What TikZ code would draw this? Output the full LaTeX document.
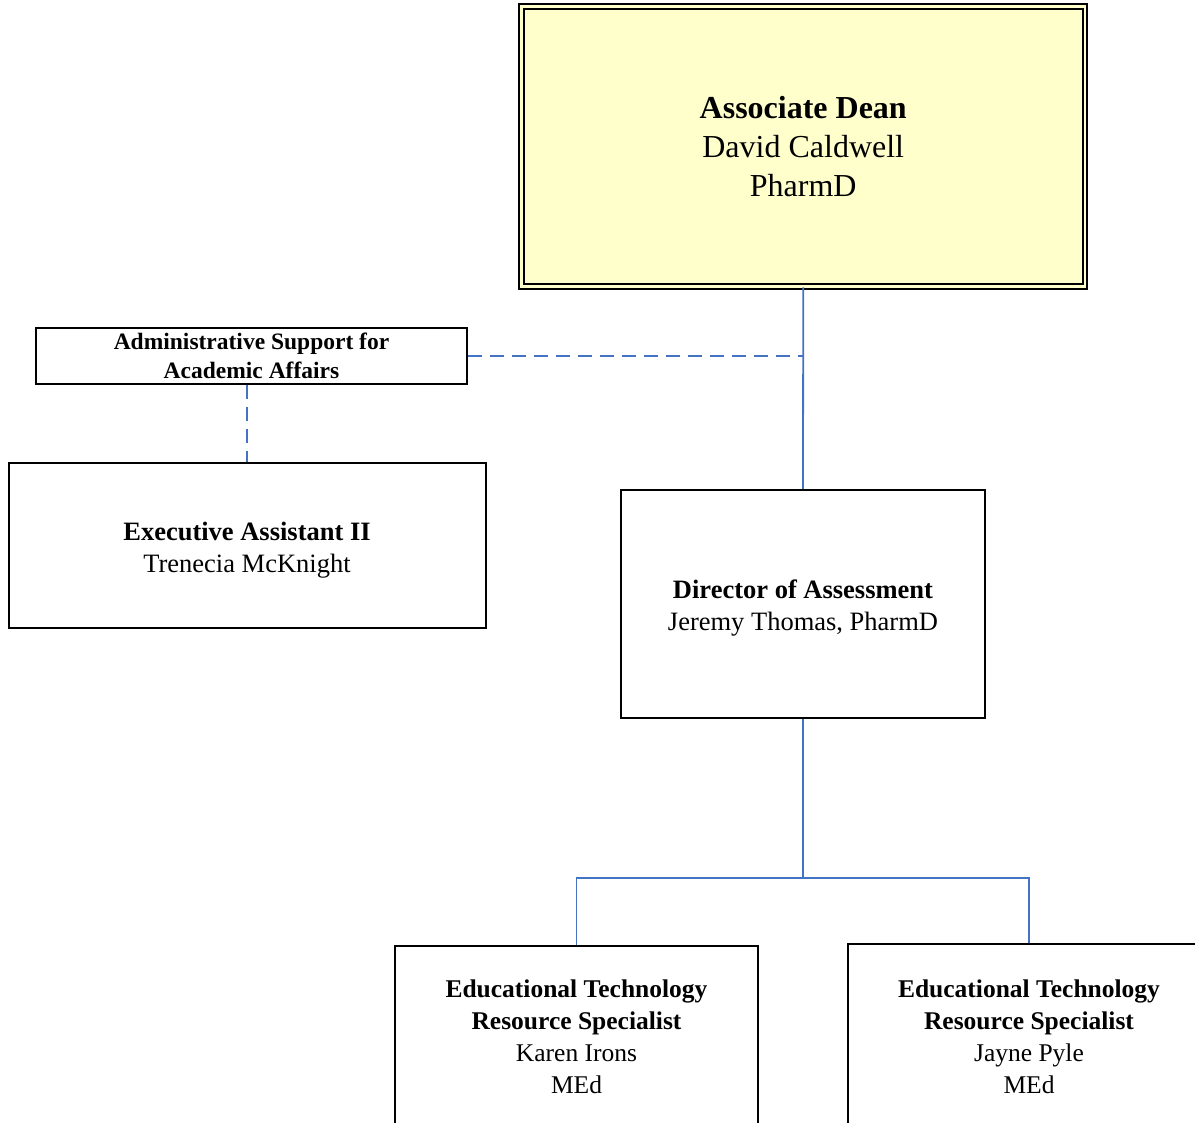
\documentclass[tikz,border=0pt]{standalone}
\usepackage{fontspec}
\setmainfont{Liberation Serif}
\definecolor{linkblue}{HTML}{4472C4}
\definecolor{deanfill}{HTML}{FFFFCC}
\begin{document}
\begin{tikzpicture}[x=1pt,y=-1pt,
  box/.style={draw=black,line width=2pt,fill=white,rectangle,inner sep=0pt,align=center},
  link/.style={draw=linkblue,line width=1.8pt},
  dlink/.style={link,dash pattern=on 14pt off 8pt}]
\useasboundingbox (0,0) rectangle (1195,1123);
\clip (0,0) rectangle (1195,1123);
\node[box,fill=deanfill,double=deanfill,double distance=2.8pt,line width=1.9pt,
  minimum width=563.5pt,minimum height=280pt,
  font=\fontsize{32}{39}\selectfont] (dean) at (803.25,146.5)
  {\textbf{Associate Dean}\\David Caldwell\\PharmD};
\node[box,minimum width=431pt,minimum height=56pt,
  font=\fontsize{23.5}{29}\selectfont\bfseries] (admin) at (251.5,356)
  {Administrative Support for\\Academic Affairs};
\node[box,minimum width=477pt,minimum height=165pt,
  font=\fontsize{26.5}{32}\selectfont] (exec) at (247,545.5)
  {\rule{0pt}{27pt}\textbf{Executive Assistant II}\\Trenecia McKnight};
\node[box,minimum width=364pt,minimum height=228pt,
  font=\fontsize{26.5}{32}\selectfont] (dir) at (803,604)
  {\rule{0pt}{27pt}\textbf{Director of Assessment}\\Jeremy Thomas, PharmD};
\node[box,minimum width=363pt,minimum height=182pt,
  font=\fontsize{25.5}{32}\selectfont] (etl) at (576.5,1037)
  {\textbf{Educational Technology}\\\textbf{Resource Specialist}\\Karen Irons\\MEd};
\node[box,minimum width=362pt,minimum height=186pt,
  font=\fontsize{25.5}{32}\selectfont] (etr) at (1029,1037)
  {\textbf{Educational Technology}\\\textbf{Resource Specialist}\\Jayne Pyle\\MEd};
\draw[link] (dean.south) -- (dir.north);
\draw[dlink] (admin.east) -- (admin.east -| dean.south);
\draw[dlink] (exec.north |- admin.south) -- (exec.north);
\coordinate (j) at (803,878);
\draw[link] (dir.south) -- (j);
\draw[link] (j) -| (etl.north);
\draw[link] (j) -| (etr.north);
\end{tikzpicture}
\end{document}
